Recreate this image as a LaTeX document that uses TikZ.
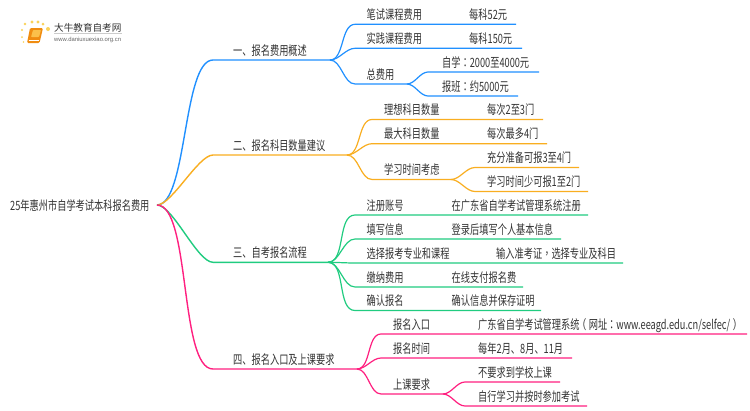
\documentclass[tikz,border=0pt]{standalone}
\usepackage{fontspec}
\setmainfont{Noto Sans CJK SC}
\newfontfamily\squeezed[FakeStretch=0.72]{Noto Sans CJK SC}
\newfontfamily\squeezedpunct[FakeStretch=0.72]{Noto Sans CJK TC}
\newfontfamily\logolatin{Liberation Sans}
\newcommand{\pct}[1]{{\squeezedpunct #1}}
\definecolor{cblue}{HTML}{2090FF}
\definecolor{corange}{HTML}{F9AE20}
\definecolor{cgreen}{HTML}{20CC80}
\definecolor{cpink}{HTML}{FF2080}
\definecolor{ctext}{HTML}{333333}
\definecolor{bookdark}{HTML}{F08C10}
\definecolor{booklight}{HTML}{FBC04A}
\definecolor{logodot}{HTML}{FAD25A}
\tikzset{
  txt/.style={anchor=base west,inner sep=0pt,text=ctext,font=\squeezed\fontsize{12.8}{14}\selectfont},
  mainlink/.style={line width=1.4pt,looseness=0.5},
  sublink/.style={line width=1.2pt,looseness=0.85},
}
% name, parent, link style and colour, x start, y, x end, text x, text
\newcommand{\topic}[8]{%
  \coordinate (#1S) at (#4,#5);
  \coordinate (#1E) at (#6,#5);
  \node[txt] (#1) at (#7,#5-4.8) {#8};
  \draw[#3] (#2) to[out=0,in=180] (#1S) -- (#1E);
}
\newcommand{\val}[4]{\node[txt] (#1) at (#2,#3-4.8) {#4};}
\begin{document}
\begin{tikzpicture}[x=1pt,y=-1pt]
\useasboundingbox (0,0) rectangle (750,410);
\fill[white] (0,0) rectangle (750,410);

% logo
\foreach \a/\b/\r in {25/24/1.3,32/22/1.6,38/22/1.7,43/24/1.5,48/29/2,22/30/1.1,22/37/1,23.5/42/.8}
  \fill[logodot] (\a,\b) circle (\r);
\fill[bookdark,rounded corners=1.2pt] (30,28) -- (43,28) -- (39.5,43) -- (27,43) -- cycle;
\fill[booklight,rounded corners=.8pt] (33,30) -- (41,30) -- (39,37) -- (31,37) -- cycle;
\draw[white,line width=.6pt] (28.5,40.5) -- (38.5,40.5);
\node[anchor=base west,inner sep=0pt,text=ctext,font=\fontsize{9.6}{11}\selectfont] (logotitle) at (54,31) {大牛教育自考网};
\draw[black!20,line width=.5pt] (54,33.5) -- (122,33.5);
\node[anchor=base west,inner sep=0pt,text=black!60,font=\logolatin\fontsize{5.9}{7}\selectfont] (logourl) at (54,41) {www.daniuxuexiao.org.cn};

% root
\node[txt] (root) at (10,210.5) {25年惠州市自学考试本科报名费用};
\coordinate (rootE) at (157,205);

% branch 1
\topic{a}{rootE}{mainlink,cblue}{213}{60}{330}{233}{一、报名费用概述}
\topic{aa}{aE}{sublink,cblue}{355}{24.3}{516}{366.5}{笔试课程费用}
\val{aav}{469}{24.3}{每科52元}
\topic{ab}{aE}{sublink,cblue}{355}{48.3}{522}{366.5}{实践课程费用}
\val{abv}{469}{48.3}{每科150元}
\topic{ac}{aE}{sublink,cblue}{355}{84}{407}{366.5}{总费用}
\topic{aca}{acE}{sublink,cblue}{428}{72}{539}{442}{自学\pct{：}2000至4000元}
\topic{acb}{acE}{sublink,cblue}{428}{96}{518}{442}{报班\pct{：}约5000元}

% branch 2
\topic{b}{rootE}{mainlink,corange}{213}{155}{347}{233}{二、报名科目数量建议}
\topic{ba}{bE}{sublink,corange}{372}{119.5}{543}{384}{理想科目数量}
\val{bav}{487}{119.5}{每次2至3门}
\topic{bb}{bE}{sublink,corange}{372}{143.7}{547}{384}{最大科目数量}
\val{bbv}{487}{143.7}{每次最多4门}
\topic{bc}{bE}{sublink,corange}{372}{179.5}{451}{384}{学习时间考虑}
\topic{bca}{bcE}{sublink,corange}{475}{167.5}{579}{487}{充分准备可报3至4门}
\topic{bcb}{bcE}{sublink,corange}{475}{191.5}{588}{487}{学习时间少可报1至2门}

% branch 3
\topic{c}{rootE}{mainlink,cgreen}{213}{262.3}{328}{233}{三、自考报名流程}
\topic{ca}{cE}{sublink,cgreen}{355}{215}{588}{366.5}{注册账号}
\val{cav}{451.5}{215}{在广东省自学考试管理系统注册}
\topic{cb}{cE}{sublink,cgreen}{355}{239}{561}{366.5}{填写信息}
\val{cbv}{451.5}{239}{登录后填写个人基本信息}
\topic{cc}{cE}{sublink,cgreen}{355}{263}{623}{366.5}{选择报考专业和课程}
\val{ccv}{496}{263}{输入准考证\pct{，}选择专业及科目}
\topic{cd}{cE}{sublink,cgreen}{355}{287}{523}{366.5}{缴纳费用}
\val{cdv}{451.5}{287}{在线支付报名费}
\topic{ce}{cE}{sublink,cgreen}{355}{310.5}{541}{366.5}{确认报名}
\val{cev}{451.5}{310.5}{确认信息并保存证明}

% branch 4
\topic{d}{rootE}{mainlink,cpink}{213}{369}{357}{233}{四、报名入口及上课要求}
\topic{da}{dE}{sublink,cpink}{381}{334}{747}{393}{报名入口}
\val{dav}{478}{334}{广东省自学考试管理系统\hspace{-2.5pt}\pct{（}\hspace{2.5pt}网址\pct{：}www.eeagd.edu.cn/selfec/\hspace{2.5pt}\pct{）}}
\topic{db}{dE}{sublink,cpink}{381}{358}{572}{393}{报名时间}
\val{dbv}{478}{358}{每年2月、8月、11月}
\topic{dc}{dE}{sublink,cpink}{381}{394}{443}{393}{上课要求}
\topic{dca}{dcE}{sublink,cpink}{465}{382}{560}{478}{不要求到学校上课}
\topic{dcb}{dcE}{sublink,cpink}{465}{406}{587}{478}{自行学习并按时参加考试}
\end{tikzpicture}
\end{document}
